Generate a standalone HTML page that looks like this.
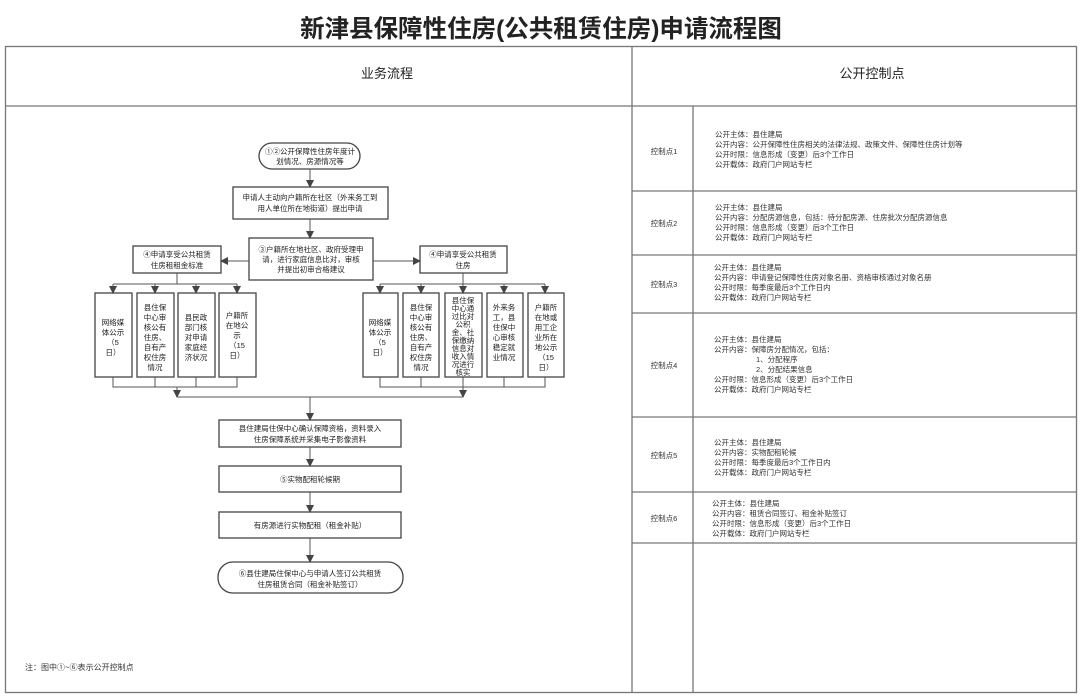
<!DOCTYPE html>
<html><head><meta charset="utf-8"><style>
html,body{margin:0;padding:0;background:#fff;}
svg{display:block;font-family:"Liberation Sans","Noto Sans CJK SC",sans-serif;}
</style></head><body>
<svg width="1080" height="696" viewBox="0 0 1080 696" xmlns="http://www.w3.org/2000/svg">
<defs><marker id="a" markerWidth="8" markerHeight="8" refX="7" refY="4" orient="auto" markerUnits="userSpaceOnUse"><path d="M0,0 L8,4 L0,8 Z" fill="#444"/></marker></defs>
<rect width="1080" height="696" fill="#fff"/>
<text x="541" y="37" font-size="24.5" font-weight="bold" text-anchor="middle" fill="#222">新津县保障性住房(公共租赁住房)申请流程图</text>
<g fill="none" stroke="#777" stroke-width="1.3">
<rect x="5.5" y="46.5" width="1071" height="646"/>
<line x1="5" y1="106" x2="1077" y2="106"/>
<line x1="632" y1="46" x2="632" y2="693"/>
<line x1="693" y1="106" x2="693" y2="693"/>
<line x1="632" y1="191" x2="1077" y2="191"/>
<line x1="632" y1="255" x2="1077" y2="255"/>
<line x1="632" y1="313" x2="1077" y2="313"/>
<line x1="632" y1="417" x2="1077" y2="417"/>
<line x1="632" y1="492" x2="1077" y2="492"/>
<line x1="632" y1="543" x2="1077" y2="543"/>
</g>
<text x="387" y="78" font-size="13" text-anchor="middle" fill="#222">业务流程</text>
<text x="872" y="78" font-size="13" text-anchor="middle" fill="#222">公开控制点</text>

<g font-size="7.5" fill="#333" text-anchor="middle">
<text x="664" y="154">控制点1</text>
<text x="664" y="226">控制点2</text>
<text x="664" y="287">控制点3</text>
<text x="664" y="368">控制点4</text>
<text x="664" y="458">控制点5</text>
<text x="664" y="521">控制点6</text>
</g>
<g font-size="7.5" fill="#333">
<text x="715" y="137">公开主体：县住建局</text>
<text x="715" y="147">公开内容：公开保障性住房相关的法律法规、政策文件、保障性住房计划等</text>
<text x="715" y="157">公开时限：信息形成（变更）后3个工作日</text>
<text x="715" y="167">公开载体：政府门户网站专栏</text>
<text x="715" y="210">公开主体：县住建局</text>
<text x="715" y="220">公开内容：分配房源信息，包括：待分配房源、住房批次分配房源信息</text>
<text x="715" y="230">公开时限：信息形成（变更）后3个工作日</text>
<text x="715" y="240">公开载体：政府门户网站专栏</text>
<text x="714" y="270">公开主体：县住建局</text>
<text x="714" y="280">公开内容：申请登记保障性住房对象名册、资格审核通过对象名册</text>
<text x="714" y="290">公开时限：每季度最后3个工作日内</text>
<text x="714" y="300">公开载体：政府门户网站专栏</text>
<text x="714" y="342">公开主体：县住建局</text>
<text x="714" y="352">公开内容：保障房分配情况，包括：</text>
<text x="756" y="362">1、分配程序</text>
<text x="756" y="372">2、分配结果信息</text>
<text x="714" y="382">公开时限：信息形成（变更）后3个工作日</text>
<text x="714" y="392">公开载体：政府门户网站专栏</text>
<text x="714" y="445">公开主体：县住建局</text>
<text x="714" y="455">公开内容：实物配租轮候</text>
<text x="714" y="465">公开时限：每季度最后3个工作日内</text>
<text x="714" y="475">公开载体：政府门户网站专栏</text>
<text x="712" y="506">公开主体：县住建局</text>
<text x="712" y="516">公开内容：租赁合同签订、租金补贴签订</text>
<text x="712" y="526">公开时限：信息形成（变更）后3个工作日</text>
<text x="712" y="536">公开载体：政府门户网站专栏</text>
</g>

<g fill="#fff" stroke="#444" stroke-width="1.3">
<rect x="259" y="143" width="101" height="26" rx="13"/>
<rect x="233" y="187" width="155" height="32"/>
<rect x="249" y="238" width="124" height="42"/>
<rect x="133" y="246" width="88" height="27"/>
<rect x="420" y="246" width="87" height="27"/>
<rect x="95" y="293" width="37" height="84"/>
<rect x="137" y="293" width="37" height="84"/>
<rect x="178" y="293" width="37" height="84"/>
<rect x="219" y="293" width="37" height="84"/>
<rect x="363" y="293" width="35" height="84"/>
<rect x="403" y="293" width="36" height="84"/>
<rect x="445" y="293" width="37" height="84"/>
<rect x="487" y="293" width="36" height="84"/>
<rect x="528" y="293" width="36" height="84"/>
<rect x="219" y="420" width="182" height="27"/>
<rect x="219" y="466" width="182" height="26"/>
<rect x="219" y="512" width="182" height="26"/>
<rect x="218" y="562" width="185" height="31" rx="15"/>
</g>
<g stroke="#555" stroke-width="1" fill="none">
<line x1="310" y1="169" x2="310" y2="187" marker-end="url(#a)"/>
<line x1="310" y1="219" x2="310" y2="238" marker-end="url(#a)"/>
<line x1="249" y1="261" x2="221" y2="261" marker-end="url(#a)"/>
<line x1="373" y1="261" x2="420" y2="261" marker-end="url(#a)"/>
<line x1="177" y1="273" x2="177" y2="284"/>
<line x1="113" y1="284" x2="237" y2="284"/>
<line x1="113" y1="284" x2="113" y2="293" marker-end="url(#a)"/>
<line x1="155" y1="284" x2="155" y2="293" marker-end="url(#a)"/>
<line x1="196" y1="284" x2="196" y2="293" marker-end="url(#a)"/>
<line x1="237" y1="284" x2="237" y2="293" marker-end="url(#a)"/>
<line x1="463" y1="273" x2="463" y2="293" marker-end="url(#a)"/>
<line x1="380" y1="284" x2="545" y2="284"/>
<line x1="380" y1="284" x2="380" y2="293" marker-end="url(#a)"/>
<line x1="421" y1="284" x2="421" y2="293" marker-end="url(#a)"/>
<line x1="504" y1="284" x2="504" y2="293" marker-end="url(#a)"/>
<line x1="545" y1="284" x2="545" y2="293" marker-end="url(#a)"/>
<path d="M113,377 V387 H237 V377 M155,377 V387 M196,377 V387"/>
<path d="M380,377 V387 H545 V377 M421,377 V387 M463,377 V387 M504,377 V387"/>
<line x1="177" y1="387" x2="177" y2="397" marker-end="url(#a)"/>
<line x1="463" y1="387" x2="463" y2="397" marker-end="url(#a)"/>
<line x1="177" y1="397" x2="463" y2="397"/>
<line x1="310" y1="397" x2="310" y2="420" marker-end="url(#a)"/>
<line x1="310" y1="447" x2="310" y2="466" marker-end="url(#a)"/>
<line x1="310" y1="492" x2="310" y2="512" marker-end="url(#a)"/>
<line x1="310" y1="538" x2="310" y2="562" marker-end="url(#a)"/>
</g>
<g font-size="7.5" fill="#222" text-anchor="middle">
<text x="310" y="154">①②公开保障性住房年度计</text>
<text x="310" y="164">划情况、房源情况等</text>
<text x="310" y="200">申请人主动向户籍所在社区（外来务工到</text>
<text x="310" y="211">用人单位所在地街道）提出申请</text>
<text x="311" y="252">③户籍所在地社区、政府受理申</text>
<text x="311" y="262">请，进行家庭信息比对，审核</text>
<text x="311" y="272">并提出初审合格建议</text>
<text x="177" y="257">④申请享受公共租赁</text>
<text x="177" y="268">住房租租金标准</text>
<text x="463" y="257">④申请享受公共租赁</text>
<text x="463" y="268">住房</text>
<text x="113" y="325">网络媒</text><text x="113" y="335">体公示</text><text x="113" y="345">（5</text><text x="113" y="355">日）</text>
<text x="155" y="310">县住保</text><text x="155" y="320">中心审</text><text x="155" y="330">核公有</text><text x="155" y="340">住房、</text><text x="155" y="350">自有产</text><text x="155" y="360">权住房</text><text x="155" y="370">情况</text>
<text x="196" y="320">县民政</text><text x="196" y="330">部门核</text><text x="196" y="340">对申请</text><text x="196" y="350">家庭经</text><text x="196" y="360">济状况</text>
<text x="237" y="318">户籍所</text><text x="237" y="328">在地公</text><text x="237" y="338">示</text><text x="237" y="348">（15</text><text x="237" y="358">日）</text>
<text x="380" y="325">网络媒</text><text x="380" y="335">体公示</text><text x="380" y="345">（5</text><text x="380" y="355">日）</text>
<text x="421" y="310">县住保</text><text x="421" y="320">中心审</text><text x="421" y="330">核公有</text><text x="421" y="340">住房、</text><text x="421" y="350">自有产</text><text x="421" y="360">权住房</text><text x="421" y="370">情况</text>
<text x="463" y="303">县住保</text><text x="463" y="311">中心通</text><text x="463" y="319">过比对</text><text x="463" y="327">公积</text><text x="463" y="335">金、社</text><text x="463" y="343">保缴纳</text><text x="463" y="351">信息对</text><text x="463" y="359">收入情</text><text x="463" y="367">况进行</text><text x="463" y="375">核实</text>
<text x="504" y="310">外来务</text><text x="504" y="320">工，县</text><text x="504" y="330">住保中</text><text x="504" y="340">心审核</text><text x="504" y="350">稳定就</text><text x="504" y="360">业情况</text>
<text x="546" y="310">户籍所</text><text x="546" y="320">在地或</text><text x="546" y="330">用工企</text><text x="546" y="340">业所在</text><text x="546" y="350">地公示</text><text x="546" y="360">（15</text><text x="546" y="370">日）</text>
<text x="310" y="431">县住建局住保中心确认保障资格，资料录入</text>
<text x="310" y="442">住房保障系统并采集电子影像资料</text>
<text x="310" y="482">⑤实物配租轮候期</text>
<text x="310" y="528">有房源进行实物配租（租金补贴）</text>
<text x="310" y="576">⑥县住建局住保中心与申请人签订公共租赁</text>
<text x="310" y="587">住房租赁合同（租金补贴签订）</text>
</g>
<text x="25" y="670" font-size="8" fill="#333">注：图中①~⑥表示公开控制点</text>
</svg>
</body></html>
